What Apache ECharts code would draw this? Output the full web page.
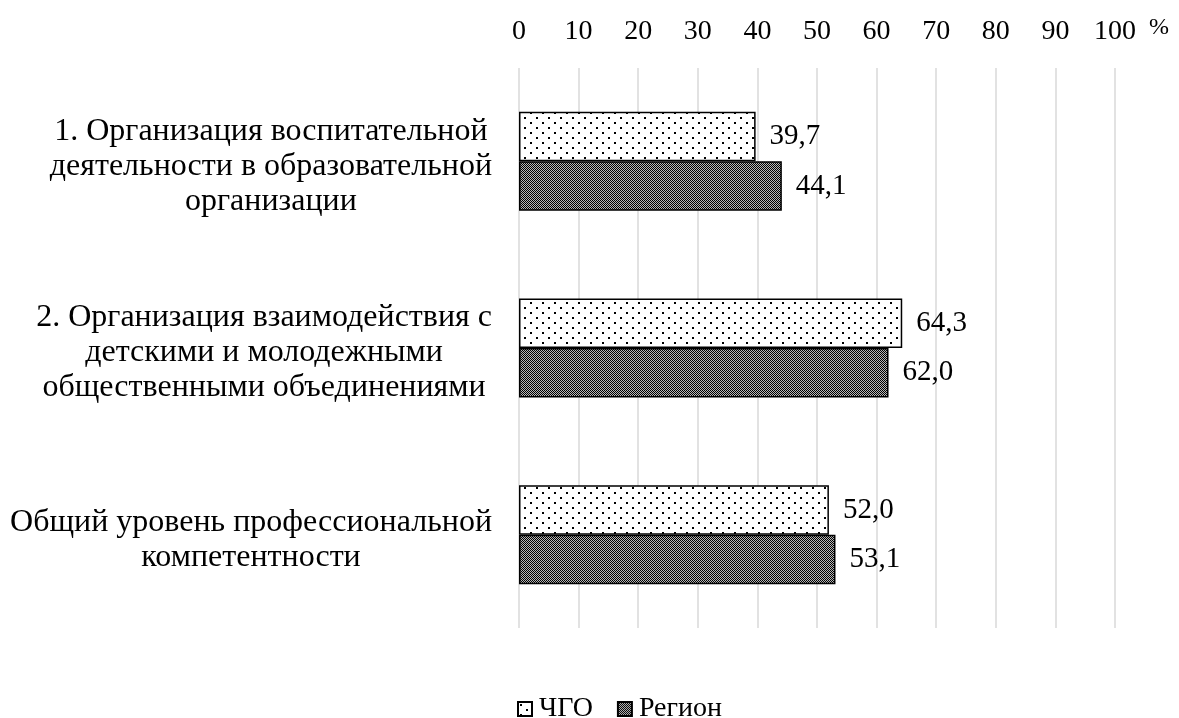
<!DOCTYPE html>
<html>
<head>
<meta charset="utf-8">
<script src="https://cdn.jsdelivr.net/npm/echarts@6/dist/echarts.min.js"></script>
<style>
html,body{margin:0;padding:0;background:#fff;}
#chart{width:1179px;height:718px;}
</style>
</head>
<body>
<div id="chart"></div>
<script>
const categories = [
  '1. Организация воспитательной\nдеятельности в образовательной\nорганизации',
  '2. Организация взаимодействия с\nдетскими и молодежными\nобщественными объединениями',
  'Общий уровень профессиональной\nкомпетентности'
];
const seriesNames = ['ЧГО', 'Регион'];
const chgoValues = [39.7, 64.3, 52.0];
const regionValues = [44.1, 62.0, 53.1];
const xTicks = [0, 10, 20, 30, 40, 50, 60, 70, 80, 90, 100];

const FONT = '"Liberation Serif", "Times New Roman", serif';

function makeTile(w, h, draw) {
  const c = document.createElement('canvas');
  c.width = w; c.height = h;
  const ctx = c.getContext('2d');
  draw(ctx);
  return c;
}
const dotTile = makeTile(12, 10, function (ctx) {
  ctx.fillStyle = '#fff';
  ctx.fillRect(0, 0, 12, 10);
  ctx.fillStyle = '#000';
  ctx.fillRect(2, 2, 2, 2);
  ctx.fillRect(8, 7, 2, 2);
});
const checkTile = makeTile(2, 2, function (ctx) {
  ctx.fillStyle = '#b8b8b8';
  ctx.fillRect(0, 0, 2, 2);
  ctx.fillStyle = '#000';
  ctx.fillRect(0, 0, 1, 1);
  ctx.fillRect(1, 1, 1, 1);
});

const fmt = function (p) { return p.value.toFixed(1).replace('.', ','); };

const chart = echarts.init(document.getElementById('chart'));
chart.setOption({
  animation: false,
  backgroundColor: '#fff',
  grid: { left: 519, right: 64, top: 68, bottom: 90, containLabel: false, outerBoundsMode: 'none' },
  legend: {
    data: seriesNames,
    left: 512,
    top: 690,
    icon: 'rect',
    itemWidth: 14,
    itemHeight: 14,
    itemGap: 24,
    textStyle: { fontFamily: FONT, fontSize: 28, color: '#000', padding: [0, 0, 0, 2] }
  },
  xAxis: {
    type: 'value',
    position: 'top',
    min: 0,
    max: 100,
    interval: 10,
    name: '%',
    nameLocation: 'end',
    nameGap: 34,
    nameTextStyle: { fontFamily: FONT, fontSize: 24, color: '#000', verticalAlign: 'bottom', lineHeight: 80 },
    axisLine: { show: false },
    axisTick: { show: false },
    axisLabel: {
      margin: 22,
      fontFamily: FONT, fontSize: 28, color: '#000',
      formatter: function (v) { return xTicks.indexOf(v) >= 0 ? String(v) : ''; }
    },
    splitLine: { show: true, lineStyle: { color: '#d9d9d9', width: 1.5 } }
  },
  yAxis: {
    type: 'category',
    inverse: true,
    data: categories,
    axisLine: { show: false },
    axisTick: { show: false },
    axisLabel: {
      margin: 27,
      padding: [10, 0, 0, 0],
      formatter: function (v) {
        return v.split('\n').map(function (l) { return '{c|' + l + '}'; }).join('\n');
      },
      rich: {
        c: { align: 'center', fontFamily: FONT, fontSize: 32, lineHeight: 35, color: '#000' }
      }
    }
  },
  series: [
    {
      name: seriesNames[0],
      type: 'bar',
      data: chgoValues,
      barGap: '0%',
      barCategoryGap: '47%',
      itemStyle: { color: { image: dotTile, repeat: 'repeat' }, borderColor: '#000', borderWidth: 1.5 },
      label: { show: true, position: 'right', distance: 14, fontFamily: FONT, fontSize: 29, color: '#000', formatter: fmt }
    },
    {
      name: seriesNames[1],
      type: 'bar',
      data: regionValues,
      barGap: '0%',
      barCategoryGap: '47%',
      itemStyle: { color: { image: checkTile, repeat: 'repeat' }, borderColor: '#000', borderWidth: 1.5 },
      label: { show: true, position: 'right', distance: 14, fontFamily: FONT, fontSize: 29, color: '#000', formatter: fmt }
    }
  ]
});
</script>
</body>
</html>
